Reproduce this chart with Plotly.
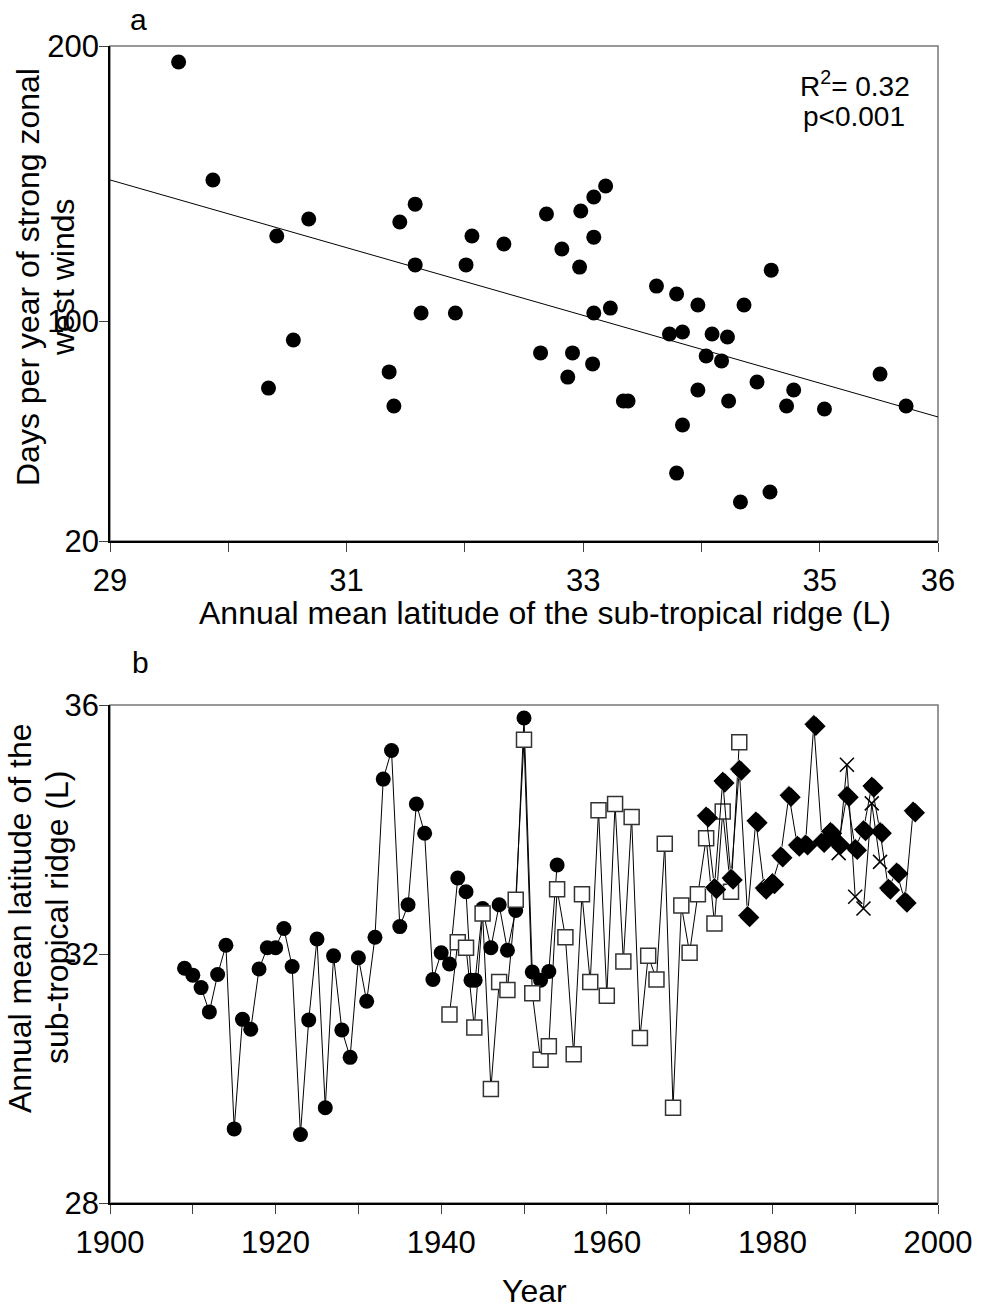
import plotly.graph_objects as go

# ---------------- Panel a data ----------------
lat_a = [29.58, 29.87, 30.41, 30.68, 30.34, 30.55, 31.36, 31.40, 31.45, 31.58,
         31.58, 31.63, 31.92, 32.01, 32.06, 32.33, 32.64, 32.69, 32.82, 32.87,
         32.91, 32.97, 32.98, 33.08, 33.09, 33.09, 33.19, 33.09, 33.23, 33.34,
         33.38, 33.62, 33.73, 33.79, 33.84, 33.79, 33.84, 33.97, 33.97, 34.04,
         34.09, 34.17, 34.22, 34.23, 34.33, 34.36, 34.47, 34.58, 34.59, 34.72,
         34.78, 35.04, 35.51, 35.73]
days_a = [194.2, 151.3, 130.9, 137.1, 75.6, 93.1, 81.5, 69.1, 136.0, 142.5,
          120.4, 102.9, 102.9, 120.4, 130.9, 128.0, 88.4, 138.9, 126.2, 79.6,
          88.4, 119.6, 140.0, 84.4, 130.5, 145.1, 149.1, 102.9, 104.7, 70.9,
          70.9, 112.7, 95.3, 109.8, 96.0, 44.7, 62.2, 105.8, 74.9, 87.3,
          95.3, 85.5, 94.2, 70.9, 34.2, 105.8, 77.8, 37.8, 118.5, 69.1,
          74.9, 68.0, 80.7, 69.1]
fit_x = [29, 36]
fit_y = [151.3, 65.1]

xa_ticks = [29, 31, 33, 35, 36]
xa_minor = [30, 32, 34]
ya_ticks = [20, 100, 200]

# ---------------- Panel b data ----------------
yr_circ = [1909, 1910, 1911, 1912, 1913, 1914, 1915, 1916, 1917, 1918,
           1919, 1920, 1921, 1922, 1923, 1924, 1925, 1926, 1927, 1928,
           1929, 1930, 1931, 1932, 1933, 1934, 1935, 1936, 1937, 1938,
           1939, 1940, 1941, 1942, 1943, 1943.6, 1944.1, 1945, 1946, 1947,
           1948, 1949, 1950, 1951, 1952, 1953, 1954]
lat_circ = [31.77, 31.66, 31.46, 31.07, 31.67, 32.14, 29.19, 30.95, 30.79, 31.76,
            32.10, 32.10, 32.41, 31.80, 29.10, 30.94, 32.24, 29.53, 31.97, 30.78,
            30.34, 31.94, 31.24, 32.27, 34.81, 35.27, 32.44, 32.79, 34.41, 33.94,
            31.59, 32.02, 31.84, 33.22, 33.00, 31.58, 31.58, 32.73, 32.10, 32.79,
            32.06, 32.70, 35.79, 31.71, 31.58, 31.72, 33.43]

yr_sq = list(range(1941, 1977))
lat_sq = [31.03, 32.19, 32.10, 30.82, 32.65, 29.83, 31.55, 31.42, 32.87, 35.44,
          31.37, 30.30, 30.52, 33.04, 32.27, 30.39, 32.96, 31.55, 34.31, 31.33,
          34.41, 31.88, 34.20, 30.65, 31.97, 31.59, 33.77, 29.53, 32.78, 32.02,
          32.96, 33.86, 32.49, 34.29, 33.00, 35.40]

yr_dia = list(range(1972, 1998))
lat_dia = [34.22, 33.07, 34.78, 33.22, 34.97, 32.62, 34.14, 33.06, 33.15, 33.58,
           34.55, 33.75, 33.77, 35.69, 33.81, 33.97, 33.78, 34.55, 33.70, 34.00,
           34.70, 33.97, 33.06, 33.32, 32.85, 34.30]

yr_x = [1988, 1989, 1990, 1991, 1992, 1993]
lat_x = [33.62, 35.04, 32.92, 32.73, 34.42, 33.48]

xb_ticks = [1900, 1920, 1940, 1960, 1980, 2000]
xb_minor = [1910, 1930, 1950, 1970, 1990]
yb_ticks = [28, 32, 36]

FONT = "Liberation Sans, Arial, sans-serif"

# ---------------- Layout geometry (pixels) ----------------
W, H = 986, 1311
L, R = 110, 938
TOP_A, BOT_A = 46, 541
TOP_B, BOT_B = 705, 1203
ph = BOT_B - TOP_A


def px(x):
    return (x - L) / (R - L)


def py(y):
    return (BOT_B - y) / ph


fig = go.Figure()

# panel a
fig.add_trace(go.Scatter(x=fit_x, y=fit_y, mode="lines",
                         line=dict(color="black", width=1),
                         xaxis="x", yaxis="y", showlegend=False))
fig.add_trace(go.Scatter(x=lat_a, y=days_a, mode="markers",
                         marker=dict(symbol="circle", size=15, color="black",
                                     line=dict(width=0)),
                         xaxis="x", yaxis="y", showlegend=False))

# panel b
fig.add_trace(go.Scatter(x=yr_circ, y=lat_circ, mode="lines+markers",
                         line=dict(color="black", width=1),
                         marker=dict(symbol="circle", size=15, color="black",
                                     line=dict(width=0)),
                         xaxis="x2", yaxis="y2", showlegend=False))
fig.add_trace(go.Scatter(x=yr_sq, y=lat_sq, mode="lines+markers",
                         line=dict(color="black", width=1),
                         marker=dict(symbol="square", size=15, color="white",
                                     line=dict(color="#333333", width=1.5)),
                         xaxis="x2", yaxis="y2", showlegend=False))
# diamond shadow (same data, drawn on a slightly shifted overlay axis)
fig.add_trace(go.Scatter(x=yr_dia, y=lat_dia, mode="markers",
                         marker=dict(symbol="diamond", size=15, color="black",
                                     line=dict(width=0)),
                         xaxis="x3", yaxis="y3", showlegend=False,
                         hoverinfo="skip"))
fig.add_trace(go.Scatter(x=yr_dia, y=lat_dia, mode="lines+markers",
                         line=dict(color="black", width=1),
                         marker=dict(symbol="diamond", size=15, color="black",
                                     line=dict(color="white", width=0.8)),
                         xaxis="x2", yaxis="y2", showlegend=False))
fig.add_trace(go.Scatter(x=yr_x, y=lat_x, mode="lines+markers",
                         line=dict(color="black", width=1),
                         marker=dict(symbol="x-thin", size=14, color="black",
                                     line=dict(color="black", width=1.5)),
                         xaxis="x2", yaxis="y2", showlegend=False))

axis_common = dict(showgrid=False, zeroline=False, showline=True,
                   linecolor="black", linewidth=1.5, ticks="outside",
                   ticklen=9, tickwidth=1, tickcolor="#444444",
                   tickfont=dict(family=FONT, size=31, color="black"))
minor_common = dict(ticks="outside", ticklen=9, tickwidth=1,
                    tickcolor="#444444", showgrid=False)

dom_a = [py(BOT_A), 1]
dom_b = [0, py(TOP_B)]

fig.update_layout(
    width=W, height=H,
    margin=dict(l=L, r=W - R, t=TOP_A, b=H - BOT_B),
    paper_bgcolor="white", plot_bgcolor="white",
    font=dict(family=FONT, color="black"),
    xaxis=dict(axis_common, domain=[0, 1], range=[29, 36], anchor="y",
               tickmode="array", tickvals=xa_ticks,
               minor=dict(minor_common, tickmode="array", tickvals=xa_minor),
               ticklabelstandoff=2),
    yaxis=dict(axis_common, domain=dom_a, range=[20, 200], anchor="x",
               tickmode="array", tickvals=ya_ticks, ticklabelstandoff=-6),
    xaxis2=dict(axis_common, domain=[0, 1], range=[1900, 2000], anchor="y2",
                tickmode="array", tickvals=xb_ticks,
                minor=dict(minor_common, tickmode="array", tickvals=xb_minor),
                ticklabelstandoff=2),
    yaxis2=dict(axis_common, domain=dom_b, range=[28, 36], anchor="x2",
                tickmode="array", tickvals=yb_ticks, ticklabelstandoff=-6),
    xaxis3=dict(overlaying="x2", range=[1900 - 0.25, 2000 - 0.25],
                visible=False, anchor="y3"),
    yaxis3=dict(overlaying="y2", range=[28 + 0.032, 36 + 0.032],
                visible=False, anchor="x3"),
)

# frame (top/right in grey)
for yd in (dom_a, dom_b):
    fig.add_shape(type="rect", xref="paper", yref="paper",
                  x0=0, x1=1, y0=yd[0], y1=yd[1],
                  line=dict(color="#777777", width=1.5), layer="below")

ann = []


def add_text(text, x, y, size, angle=0):
    ann.append(dict(text=text, x=px(x), y=py(y), xref="paper", yref="paper",
                    showarrow=False, textangle=angle, xanchor="center",
                    yanchor="middle",
                    font=dict(family=FONT, size=size, color="black")))


add_text("a", 138, 20, 30)
add_text("b", 140, 662, 30)
add_text("R<sup>2</sup>= 0.32", 855, 84, 28)
add_text("p<0.001", 854, 117, 28)
add_text("Annual mean latitude of the sub-tropical ridge (L)", 545, 613, 32)
add_text("Year", 534, 1291, 32)
add_text("Days per year of strong zonal", 28, 277, 32, -90)
add_text("west winds", 63, 277, 32, -90)
add_text("Annual mean latitude of the", 20, 918, 32, -90)
add_text("sub-tropical ridge (L)", 57, 918, 32, -90)

fig.update_layout(annotations=ann)

fig.write_html("out.html")
